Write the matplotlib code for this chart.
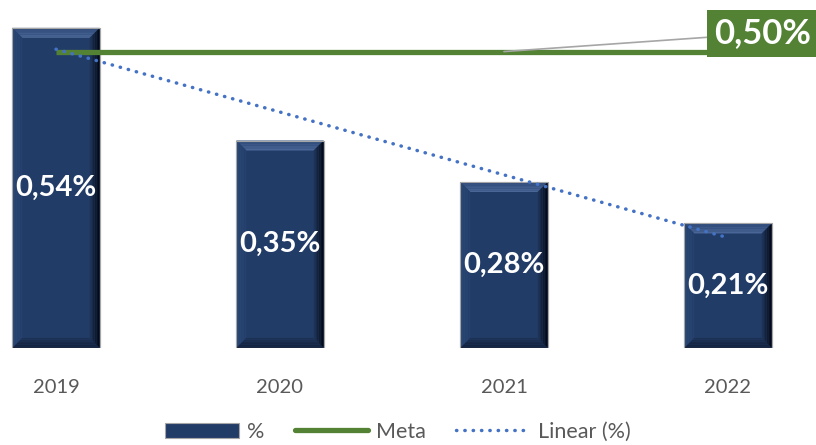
import numpy as np
import matplotlib
matplotlib.use("Agg")
from matplotlib import pyplot as plt
from matplotlib.patches import Polygon, Patch
from matplotlib.lines import Line2D
from matplotlib.colors import to_rgb

# data
years = ["2019", "2020", "2021", "2022"]
values = [0.54, 0.35, 0.28, 0.21]
meta = [0.50, 0.50, 0.50, 0.50]
meta_label = "0,50%"

plt.rcParams['font.family'] = ['Lato', 'DejaVu Sans']

fig = plt.figure(figsize=(8.16, 4.45), dpi=100)
ax = fig.add_axes([0.0, 0.218, 1.0, 0.782])

x = np.arange(len(years))
ax.set_xlim(-0.25, 3.393)
ax.set_ylim(0, 0.587)

navy = '#223C68'
bars = ax.bar(x, values, width=0.39, color=navy, edgecolor='#A6A6A6', linewidth=0.8, zorder=2)


def mix(c1, c2, t):
    a, b = np.array(to_rgb(c1)), np.array(to_rgb(c2))
    return tuple(a + (b - a) * t)


def face(outer, inner, c_out, c_in, n=6):
    # draw a bevel face as strips going from the outer edge to the inner edge
    (o0, o1), (i0, i1) = outer, inner
    o0, o1, i0, i1 = map(np.array, (o0, o1, i0, i1))
    for k in range(n):
        t0, t1 = k / n, (k + 1) / n
        pts = [o0 + (i0 - o0) * t0, o1 + (i1 - o1) * t0, o1 + (i1 - o1) * t1, o0 + (i0 - o0) * t1]
        ax.add_patch(Polygon(pts, closed=True, facecolor=mix(c_out, c_in, (k + 0.5) / n),
                             edgecolor='none', zorder=2.5))


# bevel effect on the bars
fig.canvas.draw()
bbox = ax.get_window_extent()
dx = 10 * (ax.get_xlim()[1] - ax.get_xlim()[0]) / bbox.width
dy = 10 * (ax.get_ylim()[1] - ax.get_ylim()[0]) / bbox.height
for b in bars:
    x0, w, h = b.get_x(), b.get_width(), b.get_height()
    x1 = x0 + w
    face(((x0, h), (x1, h)), ((x0 + dx, h - dy), (x1 - dx, h - dy)), '#2E4B7B', '#4C6898')
    face(((x0, 0), (x0, h)), ((x0 + dx, dy), (x0 + dx, h - dy)), '#2A4674', '#26416D')
    face(((x1, 0), (x1, h)), ((x1 - dx, dy), (x1 - dx, h - dy)), '#03070F', '#1F375F')
    face(((x0, 0), (x1, 0)), ((x0 + dx, dy), (x1 - dx, dy)), '#101E38', '#1D3357')
    ax.add_patch(Polygon([(x0, 0), (x0, h), (x1, h), (x1, 0)], closed=True, fill=False,
                         edgecolor='#A6A6A6', linewidth=0.8, zorder=2.7))

# value labels inside bars
for xi, v in zip(x, values):
    ax.text(xi, v / 2, ('%.2f%%' % v).replace('.', ','), ha='center', va='center',
            color='white', fontsize=21, fontweight='bold', zorder=4)

# meta line
ax.plot(x, meta, color='#548235', linewidth=3.8, solid_capstyle='butt', zorder=3)

# linear trend
coef = np.polyfit(x, values, 1)
trend = np.polyval(coef, x)
ax.plot(x, trend, color='#4472C4', linewidth=2.5, linestyle=(0, (0.1, 2.3)),
        dash_capstyle='round', zorder=3.5)

# meta data label with leader line
ax.annotate(meta_label, xy=(2, meta[2]), xytext=(0.935, 0.925), textcoords='figure fraction',
            ha='center', va='center', color='white', fontsize=25, fontweight='bold',
            bbox=dict(boxstyle='square,pad=0.22', facecolor='#548235', edgecolor='none'),
            arrowprops=dict(arrowstyle='-', color='#A6A6A6', linewidth=1.2,
                            shrinkA=0, shrinkB=0), zorder=5)

ax.set_xticks(x)
ax.set_xticklabels(years, fontsize=14.5, color='#595959')
ax.tick_params(axis='x', length=0, pad=22)
ax.set_yticks([])
for s in ax.spines.values():
    s.set_visible(False)

handles = [
    Patch(facecolor=navy, edgecolor='#A6A6A6', linewidth=0.8),
    Line2D([], [], color='#548235', linewidth=3.8, solid_capstyle='round'),
    Line2D([], [], color='#4472C4', linewidth=2.5, linestyle=(0, (0.1, 2.3)), dash_capstyle='round'),
]
fig.legend(handles, ['%', 'Meta', 'Linear (%)'], loc='center', bbox_to_anchor=(0.488, 0.03),
           ncol=3, frameon=False, fontsize=15.5, labelcolor='#595959',
           handlelength=3.4, handletextpad=0.4, columnspacing=1.4)

fig.savefig('out.png', dpi=100)
